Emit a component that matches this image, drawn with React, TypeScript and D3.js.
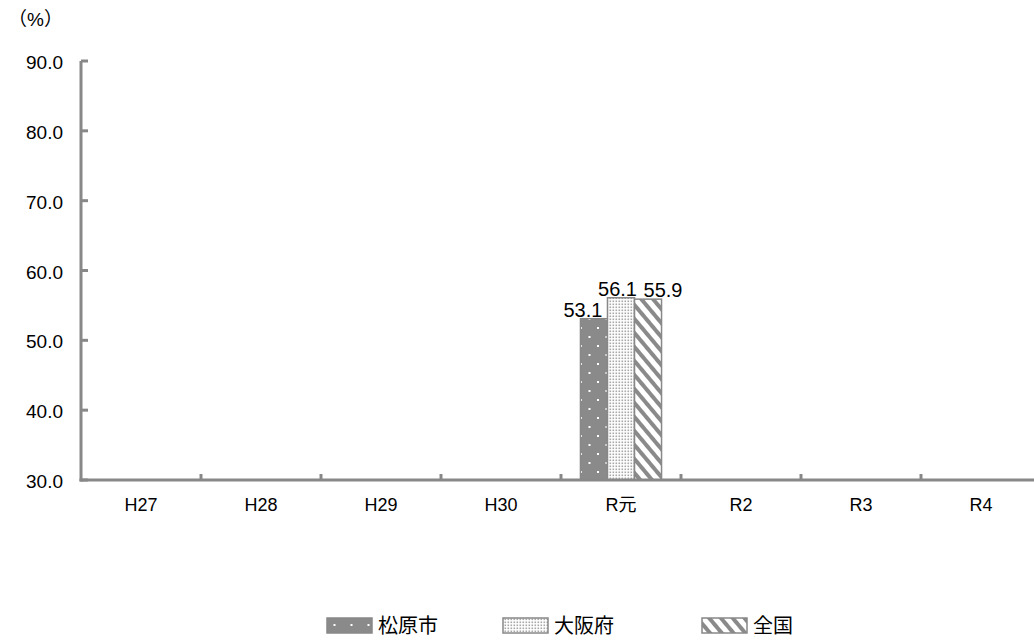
import React from "react";
import * as d3 from "d3";

const categories = ["H27", "H28", "H29", "H30", "R元", "R2", "R3", "R4"];
const seriesNames = ["松原市", "大阪府", "全国"];
const matsubara: (number | null)[] = [null, null, null, null, 53.1, null, null, null];
const osaka: (number | null)[] = [null, null, null, null, 56.1, null, null, null];
const zenkoku: (number | null)[] = [null, null, null, null, 55.9, null, null, null];
const yTicks = [30, 40, 50, 60, 70, 80, 90];

const W = 1034;
const H = 640;
const left = 81;
const bandW = 120;
const top = 61;
const bottom = 480;
const font = "'Liberation Sans', Arial, 'Noto Sans CJK JP', sans-serif";
const axisColor = "#888888";

export default function App() {
  const x = d3
    .scaleBand<string>()
    .domain(categories)
    .range([left, left + bandW * categories.length])
    .paddingInner(0)
    .paddingOuter(0);
  const y = d3.scaleLinear().domain([30, 90]).range([bottom, top]);
  const inner = d3
    .scaleBand<string>()
    .domain(seriesNames)
    .range([0, x.bandwidth()])
    .paddingInner(0)
    .paddingOuter(0.72);
  const series = [matsubara, osaka, zenkoku];
  const fills = ["url(#pMatsu)", "url(#pOsaka)", "url(#pZen)"];
  const labelDx = [-11, -3.5, 15];
  const legendX = [327, 503, 702];

  return (
    <svg
      width={W}
      height={H}
      style={{ position: "absolute", left: 0, top: 0, background: "#fff" }}
      fontFamily={font}
    >
      <defs>
        <pattern id="pMatsu" width="17" height="18" patternUnits="userSpaceOnUse">
          <rect width="17" height="18" fill="#8a8a8a" />
          <rect x="2" y="3" width="2" height="2" fill="#ffffff" />
          <rect x="10.5" y="12" width="2" height="2" fill="#ffffff" />
        </pattern>
        <pattern id="pOsaka" width="3" height="3" patternUnits="userSpaceOnUse">
          <rect width="3" height="3" fill="#ffffff" />
          <rect x="0.5" y="0.5" width="1.6" height="1.6" fill="#a8a8a8" />
        </pattern>
        <pattern
          id="pZen"
          width="9"
          height="9"
          patternUnits="userSpaceOnUse"
          patternTransform="rotate(-40)"
        >
          <rect width="9" height="9" fill="#ffffff" />
          <rect x="0" y="0" width="4" height="9" fill="#8a8a8a" />
        </pattern>
      </defs>

      <text x={8} y={26} fontSize={19} fill="#000">（%）</text>

      {yTicks.map((t) => (
        <g key={t}>
          <text
            x={63}
            y={y(t)}
            dy={8}
            fontSize={19}
            textAnchor="end"
            fill="#000"
          >
            {t.toFixed(1)}
          </text>
          <line x1={left} x2={left + 7} y1={y(t)} y2={y(t)} stroke={axisColor} strokeWidth={3} />
        </g>
      ))}

      {series.map((vals, si) =>
        categories.map((c, ci) => {
          const v = vals[ci];
          if (v == null) return null;
          const bx = (x(c) as number) + (inner(seriesNames[si]) as number);
          const bw = inner.bandwidth();
          return (
            <g key={`${si}-${ci}`}>
              <rect
                x={bx}
                y={y(v)}
                width={bw}
                height={bottom - y(v)}
                fill={fills[si]}
                stroke={axisColor}
                strokeWidth={1.5}
              />
              <text
                x={bx + bw / 2 + labelDx[si]}
                y={y(v) - 2}
                fontSize={20}
                textAnchor="middle"
                fill="#000"
              >
                {v.toFixed(1)}
              </text>
            </g>
          );
        })
      )}

      <line x1={left} x2={left} y1={top} y2={bottom + 1.5} stroke={axisColor} strokeWidth={3} />
      <line x1={left - 1.5} x2={W} y1={bottom} y2={bottom} stroke={axisColor} strokeWidth={3} />
      {categories.slice(1).map((c) => (
        <line
          key={c}
          x1={x(c) as number}
          x2={x(c) as number}
          y1={bottom}
          y2={bottom - 6}
          stroke={axisColor}
          strokeWidth={3}
        />
      ))}
      {categories.map((c) => (
        <text
          key={c}
          x={(x(c) as number) + x.bandwidth() / 2}
          y={511}
          fontSize={18}
          textAnchor="middle"
          fill="#000"
        >
          {c}
        </text>
      ))}

      {seriesNames.map((n, i) => (
        <g key={n}>
          <rect
            x={legendX[i]}
            y={618}
            width={45}
            height={15}
            fill={fills[i]}
            stroke={axisColor}
            strokeWidth={1.5}
          />
          <text x={legendX[i] + 51} y={633} fontSize={20} fill="#000">
            {n}
          </text>
        </g>
      ))}
    </svg>
  );
}
